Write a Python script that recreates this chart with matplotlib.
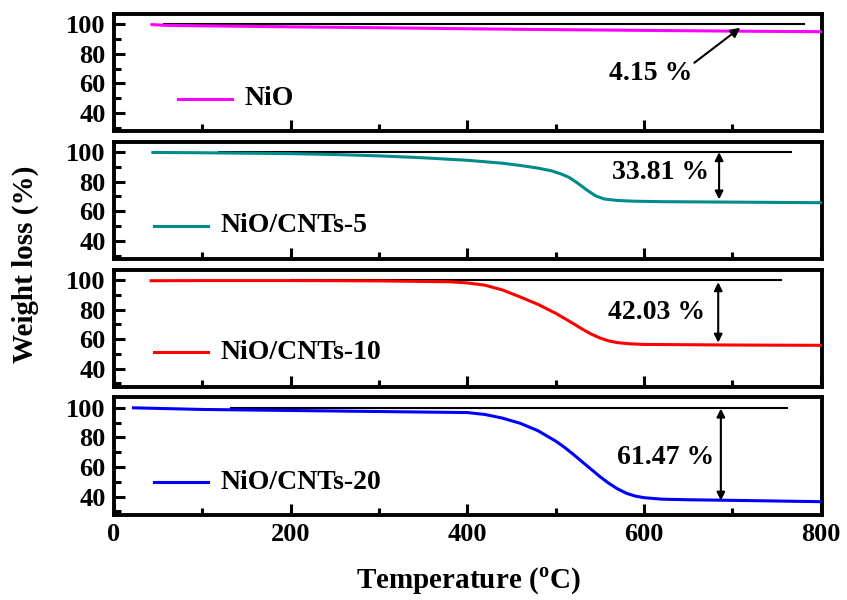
import numpy as np
import matplotlib
matplotlib.use("Agg")
import matplotlib.pyplot as plt
from matplotlib.ticker import MultipleLocator

plt.rcParams['font.family'] = ['Liberation Serif', 'DejaVu Serif']
plt.rcParams['font.weight'] = 'bold'
plt.rcParams['mathtext.fontset'] = 'custom'
plt.rcParams['mathtext.rm'] = 'Liberation Serif:bold'
plt.rcParams['mathtext.bf'] = 'Liberation Serif:bold'

# TGA data (temperature in degC, weight in %)
nio_t = [43, 60, 100, 200, 300, 400, 500, 600, 700, 800]
nio_w = [99.8, 99.3, 99.0, 98.3, 97.7, 97.0, 96.4, 95.9, 95.4, 95.0]

c5_t = [44, 100, 200, 250, 300, 350, 400, 440, 460, 480, 495, 505, 515, 525, 535,
        545, 555, 570, 590, 620, 700, 800]
c5_w = [99.8, 99.6, 99.0, 98.4, 97.5, 96.2, 94.5, 92.5, 91.0, 89.2, 87.4, 85.5, 83.0,
        79.0, 74.5, 70.5, 68.3, 67.3, 66.8, 66.5, 66.2, 65.8]

c10_t = [42, 100, 200, 300, 380, 400, 420, 440, 460, 480, 500, 510, 520, 530, 540,
         550, 560, 570, 585, 600, 700, 800]
c10_w = [99.5, 99.6, 99.6, 99.4, 98.8, 98.0, 96.5, 93.2, 88.5, 83.5, 77.5, 74.0, 70.5,
         66.8, 63.5, 60.8, 58.8, 57.6, 56.8, 56.4, 56.0, 55.8]

c20_t = [22, 100, 200, 300, 400, 420, 440, 460, 480, 500, 510, 520, 530, 540, 550,
         560, 570, 580, 590, 600, 620, 650, 700, 800]
c20_w = [100, 98.9, 98.2, 97.5, 96.8, 95.5, 93.0, 89.5, 84.5, 77.5, 73.3, 68.5, 63.5,
         58.5, 53.5, 49.0, 45.2, 42.2, 40.3, 39.2, 38.2, 37.8, 37.4, 36.5]

labels = ['NiO', 'NiO/CNTs-5', 'NiO/CNTs-10', 'NiO/CNTs-20']
colors = ['#ff00ff', '#008b8b', '#ff0000', '#0000ff']
losses = ['4.15 %', '33.81 %', '42.03 %', '61.47 %']
temps = [nio_t, c5_t, c10_t, c20_t]
weights = [nio_w, c5_w, c10_w, c20_w]

# reference line (start, end) at 100 %
ref_lines = [(57, 781), (119, 766), (200, 755), (132, 762)]
# legend sample line positions
leg_x = [(73, 134), (45, 106), (45, 106), (45, 106)]
leg_y = [49.7, 50.2, 51, 49.7]
# annotation text positions and arrows
text_xy = [(607, 66.7), (619, 86), (614, 78), (624, 66.4)]
arrow_x = [None, 685, 684, 687]
arrow_y = [None, (100, 68), (98.5, 57.6), (99.5, 37.2)]

fig, axes = plt.subplots(4, 1, figsize=(8.47, 6.0), dpi=100, sharex=True)
fig.subplots_adjust(left=0.1346, right=0.971, top=0.9767, bottom=0.1417, hspace=0.088)

for i, ax in enumerate(axes):
    ax.plot(temps[i], weights[i], color=colors[i], lw=2.2, zorder=3)
    ax.plot(ref_lines[i], [100, 100], color='black', lw=1.5, zorder=2)
    ax.plot(leg_x[i], [leg_y[i], leg_y[i]], color=colors[i], lw=2.2)
    ax.text(leg_x[i][1] + 14, leg_y[i], labels[i], fontsize=20, fontweight='bold',
            va='center', ha='left')
    ax.text(text_xy[i][0], text_xy[i][1], losses[i], fontsize=20, fontweight='bold',
            va='center', ha='center')
    if i == 0:
        ax.annotate('', xy=(709, 97.7), xytext=(657, 74),
                    arrowprops=dict(arrowstyle='-|>', color='black', lw=1.5,
                                    mutation_scale=14, shrinkA=0, shrinkB=0))
    else:
        ax.annotate('', xy=(arrow_x[i], arrow_y[i][1]), xytext=(arrow_x[i], arrow_y[i][0]),
                    arrowprops=dict(arrowstyle='<|-|>', color='black', lw=1.5,
                                    mutation_scale=12, shrinkA=0, shrinkB=0))

    ax.set_xlim(0, 802)
    ax.set_ylim(27.5, 107)
    ax.yaxis.set_major_locator(MultipleLocator(20))
    ax.yaxis.set_minor_locator(MultipleLocator(10))
    ax.xaxis.set_major_locator(MultipleLocator(200))
    ax.xaxis.set_minor_locator(MultipleLocator(100))
    ax.set_yticks([40, 60, 80, 100])
    ax.tick_params(which='both', direction='in', top=False, right=False,
                   labelsize=19, pad=6)
    ax.tick_params(which='major', length=8, width=2.2)
    ax.tick_params(which='minor', length=5, width=2.2)
    for lab in ax.get_yticklabels() + ax.get_xticklabels():
        lab.set_fontweight('bold')
    for sp in ax.spines.values():
        sp.set_linewidth(2.8)
        sp.set_joinstyle('round')

axes[-1].set_xticks([0, 200, 400, 600, 800])
for lab in axes[-1].get_xticklabels():
    lab.set_fontweight('bold')
axes[-1].set_xlabel(r'Temperature ($^{\rm o}$C)', fontsize=21, fontweight='bold', labelpad=14)
fig.text(0.03, 0.56, 'Weight loss (%)', rotation=90, fontsize=21, fontweight='bold',
         va='center', ha='center')

plt.savefig('out.png', dpi=100)
